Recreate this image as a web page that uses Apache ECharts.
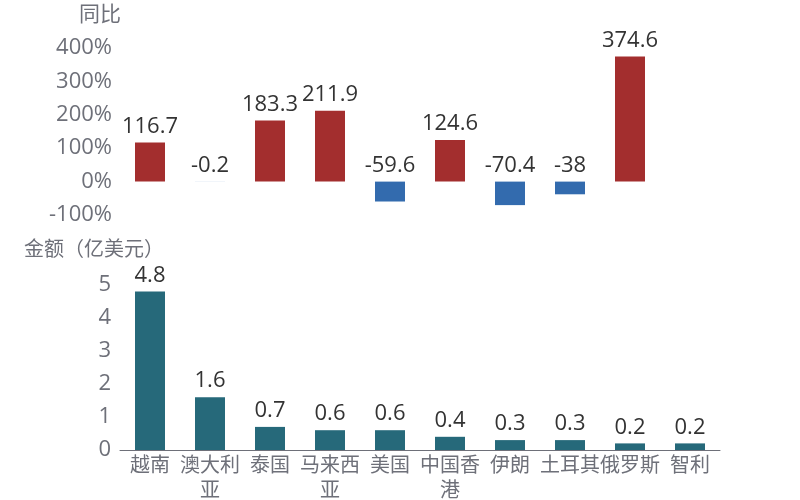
<!DOCTYPE html>
<html><head><meta charset="utf-8">
<script src="https://cdn.jsdelivr.net/npm/echarts@6/dist/echarts.min.js"></script>
<style>html,body{margin:0;padding:0;background:#fff}#c{width:800px;height:500px}</style>
</head><body><div id="c"></div>
<script>
var categories = ['越南','澳大利亚','泰国','马来西亚','美国','中国香港','伊朗','土耳其','俄罗斯','智利'];
var yoyValues = [116.7, -0.2, 183.3, 211.9, -59.6, 124.6, -70.4, -38, 374.6, null];
var amountValues = [4.8, 1.6, 0.7, 0.6, 0.6, 0.4, 0.3, 0.3, 0.2, 0.2];
var yoyTicks = {min: -100, max: 400, interval: 100};
var amountTicks = {min: 0, max: 5, interval: 1};

var FONT = '"Open Sans", "Noto Sans CJK SC", sans-serif';
var gray = '#6e7079';
var chart = echarts.init(document.getElementById('c'));
chart.setOption({
  textStyle: {fontFamily: FONT},
  grid: [
    {left: 120, right: 80, top: 48, height: 167, outerBoundsMode: 'none', containLabel: false},
    {left: 120, right: 80, top: 285, height: 165, outerBoundsMode: 'none', containLabel: false}
  ],
  xAxis: [
    {type: 'category', gridIndex: 0, data: categories, show: false},
    {type: 'category', gridIndex: 1, data: categories,
     axisLine: {lineStyle: {color: gray}},
     axisTick: {alignWithLabel: true, length: 5, lineStyle: {color: gray}},
     axisLabel: {color: gray, fontSize: 20, interval: 0, margin: 4, width: 61, overflow: 'break', lineHeight: 25, fontFamily: FONT}}
  ],
  yAxis: [
    {type: 'value', gridIndex: 0, min: yoyTicks.min, max: yoyTicks.max, interval: yoyTicks.interval,
     name: '同比', nameGap: 22, nameTextStyle: {color: gray, fontSize: 21, padding: [0, 40, 0, 0], fontFamily: FONT},
     axisLine: {show: false}, axisTick: {show: false}, splitLine: {show: false},
     axisLabel: {color: gray, fontSize: 22, formatter: '{value}%', margin: 8, fontFamily: FONT}},
    {type: 'value', gridIndex: 1, min: amountTicks.min, max: amountTicks.max, interval: amountTicks.interval,
     name: '金额（亿美元）', nameGap: 25, nameTextStyle: {color: gray, fontSize: 20, padding: [0, 52, 0, 0], fontFamily: FONT},
     axisLine: {show: false}, axisTick: {show: false}, splitLine: {show: false},
     axisLabel: {color: gray, fontSize: 22, margin: 9, fontFamily: FONT}}
  ],
  series: [
    {type: 'bar', xAxisIndex: 0, yAxisIndex: 0, data: yoyValues, barWidth: 30,
     itemStyle: {color: function(p){ return p.value >= 0 ? '#a32e2e' : '#336bae'; }},
     label: {show: true, position: 'top', color: '#333', fontSize: 22, distance: 5, fontFamily: FONT}},
    {type: 'bar', xAxisIndex: 1, yAxisIndex: 1, data: amountValues, barWidth: 30,
     itemStyle: {color: '#26697a'},
     label: {show: true, position: 'top', color: '#333', fontSize: 22, distance: 5, fontFamily: FONT}}
  ]
});
</script></body></html>
